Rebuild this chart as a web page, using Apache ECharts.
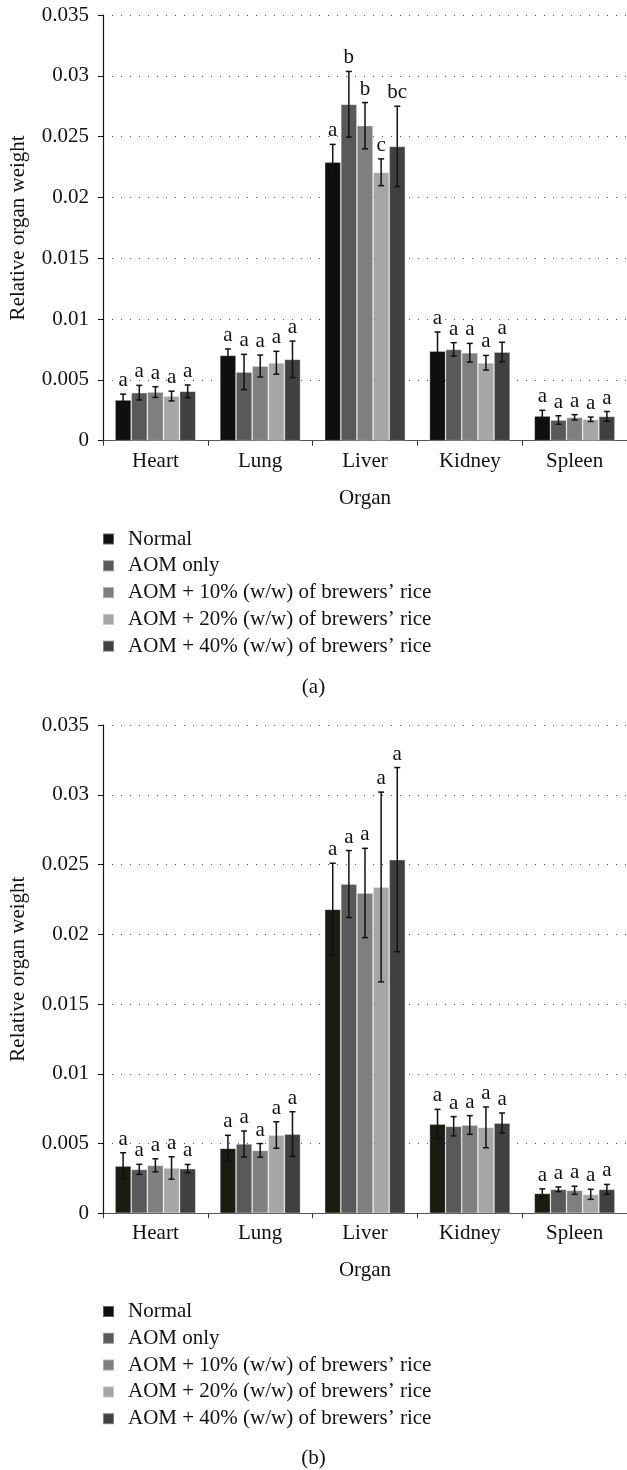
<!DOCTYPE html>
<html>
<head>
<meta charset="utf-8">
<script src="https://cdn.jsdelivr.net/npm/echarts@6/dist/echarts.min.js"></script>
<style>html,body{margin:0;padding:0;background:#fff}#c{width:627px;height:1470px}</style>
</head>
<body>
<div id="c"></div>
<script>
// ---------- data ----------
const categories = ['Heart', 'Lung', 'Liver', 'Kidney', 'Spleen'];
const groups = ['Normal', 'AOM only', 'AOM + 10% (w/w) of brewers’ rice', 'AOM + 20% (w/w) of brewers’ rice', 'AOM + 40% (w/w) of brewers’ rice'];
const yTicks = [0, 0.005, 0.01, 0.015, 0.02, 0.025, 0.03, 0.035];

// Panel (a) means
const aNormal = [0.00335, 0.00702, 0.02291, 0.00737, 0.00203];
const aAOM    = [0.00395, 0.00565, 0.02766, 0.00751, 0.00170];
const aAOM10  = [0.00400, 0.00614, 0.02590, 0.00723, 0.00192];
const aAOM20  = [0.00367, 0.00641, 0.02207, 0.00641, 0.00176];
const aAOM40  = [0.00406, 0.00669, 0.02420, 0.00729, 0.00200];
// Panel (a) error (±)
const aErrNormal = [0.00048, 0.00052, 0.00145, 0.00157, 0.00047];
const aErrAOM    = [0.00060, 0.00145, 0.00270, 0.00055, 0.00035];
const aErrAOM10  = [0.00044, 0.00090, 0.00190, 0.00077, 0.00022];
const aErrAOM20  = [0.00040, 0.00094, 0.00110, 0.00060, 0.00018];
const aErrAOM40  = [0.00052, 0.00150, 0.00330, 0.00080, 0.00040];
// Panel (a) letters
const aLetNormal = ['a', 'a', 'a', 'a', 'a'];
const aLetAOM    = ['a', 'a', 'b', 'a', 'a'];
const aLetAOM10  = ['a', 'a', 'b', 'a', 'a'];
const aLetAOM20  = ['a', 'a', 'c', 'a', 'a'];
const aLetAOM40  = ['a', 'a', 'bc', 'a', 'a'];

// Panel (b) means
const bNormal = [0.00339, 0.00466, 0.02179, 0.00640, 0.00143];
const bAOM    = [0.00315, 0.00497, 0.02360, 0.00624, 0.00172];
const bAOM10  = [0.00344, 0.00451, 0.02296, 0.00633, 0.00165];
const bAOM20  = [0.00325, 0.00561, 0.02339, 0.00616, 0.00136];
const bAOM40  = [0.00320, 0.00568, 0.02535, 0.00647, 0.00172];
// Panel (b) error (±)
const bErrNormal = [0.00095, 0.00093, 0.00330, 0.00105, 0.00032];
const bErrAOM    = [0.00036, 0.00093, 0.00240, 0.00069, 0.00017];
const bErrAOM10  = [0.00047, 0.00049, 0.00320, 0.00067, 0.00029];
const bErrAOM20  = [0.00080, 0.00095, 0.00680, 0.00146, 0.00036];
const bErrAOM40  = [0.00030, 0.00160, 0.00660, 0.00072, 0.00035];
// Panel (b) letters
const bLetNormal = ['a', 'a', 'a', 'a', 'a'];
const bLetAOM    = ['a', 'a', 'a', 'a', 'a'];
const bLetAOM10  = ['a', 'a', 'a', 'a', 'a'];
const bLetAOM20  = ['a', 'a', 'a', 'a', 'a'];
const bLetAOM40  = ['a', 'a', 'a', 'a', 'a'];

// ---------- styles ----------
const colorsA = ['#0f0f0f', '#595959', '#7f7f7f', '#a6a6a6', '#404040'];
const colorsB = ['#1b1b12', '#595959', '#7f7f7f', '#a6a6a6', '#404040'];
const FONT = '"Liberation Serif", "DejaVu Serif", serif';
const FS = 21;
const CAT_GAP = 0.23;

const panelA = { means: [aNormal, aAOM, aAOM10, aAOM20, aAOM40], errs: [aErrNormal, aErrAOM, aErrAOM10, aErrAOM20, aErrAOM40], lets: [aLetNormal, aLetAOM, aLetAOM10, aLetAOM20, aLetAOM40], colors: colorsA };
const panelB = { means: [bNormal, bAOM, bAOM10, bAOM20, bAOM40], errs: [bErrNormal, bErrAOM, bErrAOM10, bErrAOM20, bErrAOM40], lets: [bLetNormal, bLetAOM, bLetAOM10, bLetAOM20, bLetAOM40], colors: colorsB };

function xAxisCfg(gi) {
  return {
    type: 'category', gridIndex: gi, data: categories,
    name: 'Organ', nameLocation: 'middle', nameGap: 47,
    nameTextStyle: { fontFamily: FONT, fontSize: FS, color: '#111' },
    axisLine: { lineStyle: { color: '#555', width: 1.2 } },
    axisTick: { show: true, length: 5, lineStyle: { color: '#333' } },
    axisLabel: { fontFamily: FONT, fontSize: FS, color: '#111', margin: 10 },
    splitLine: { show: false }
  };
}
function yAxisCfg(gi) {
  return {
    type: 'value', gridIndex: gi, min: 0, max: 0.035, interval: 0.005,
    name: 'Relative organ weight', nameLocation: 'middle', nameGap: 74,
    nameTextStyle: { fontFamily: FONT, fontSize: FS, color: '#111' },
    axisLine: { show: true, lineStyle: { color: '#111', width: 1.2 } },
    axisTick: { show: true, length: 5, lineStyle: { color: '#111' } },
    axisLabel: {
      fontFamily: FONT, fontSize: FS, color: '#111', margin: 14,
      formatter: function (v) {
        for (const t of yTicks) { if (Math.abs(t - v) < 1e-9) return String(t); }
        return '';
      }
    },
    splitLine: { show: true, lineStyle: { color: '#555', width: 1, type: [1, 8] } }
  };
}

const series = [];
function addPanel(p, gi) {
  groups.forEach((g, i) => {
    series.push({
      type: 'bar', name: g, xAxisIndex: gi, yAxisIndex: gi,
      data: p.means[i], barGap: '0%', barCategoryGap: (CAT_GAP * 100) + '%',
      itemStyle: { color: p.colors[i], borderColor: 'rgba(255,255,255,0.35)', borderWidth: 0.8 },
      emphasis: { disabled: true }, z: 2
    });
  });
  const data = [];
  const letters = [];
  groups.forEach((g, i) => {
    categories.forEach((c, k) => {
      data.push([k, i, p.means[i][k], p.errs[i][k]]);
      letters.push(p.lets[i][k]);
    });
  });
  series.push({
    type: 'custom', xAxisIndex: gi, yAxisIndex: gi, z: 5, silent: true,
    data: data,
    renderItem: function (params, api) {
      const cat = api.value(0), gidx = api.value(1), m = api.value(2), e = api.value(3);
      const c = api.coord([cat, m]);
      const band = api.size([1, 0])[0];
      const bw = band * (1 - CAT_GAP) / groups.length;
      const x = c[0] + (gidx - (groups.length - 1) / 2) * bw;
      const top = api.coord([cat, m + e])[1];
      const bot = api.coord([cat, m - e])[1];
      const cap = 3;
      const ls = { stroke: '#111', lineWidth: 1.5 };
      return {
        type: 'group',
        children: [
          { type: 'line', shape: { x1: x, y1: top, x2: x, y2: bot }, style: ls },
          { type: 'line', shape: { x1: x - cap, y1: top, x2: x + cap, y2: top }, style: ls },
          { type: 'line', shape: { x1: x - cap, y1: bot, x2: x + cap, y2: bot }, style: ls },
          { type: 'text', style: { text: letters[params.dataIndex], x: x, y: top - 3, textAlign: 'center', textVerticalAlign: 'bottom', font: FS + 'px ' + FONT, fill: '#111' } }
        ]
      };
    }
  });
}
addPanel(panelA, 0);
addPanel(panelB, 1);

function legendCfg(top) {
  return {
    orient: 'vertical', left: 102, top: top, data: groups, padding: 0,
    icon: 'rect', itemWidth: 11, itemHeight: 11, itemGap: 5.8,
    selectedMode: false,
    textStyle: { fontFamily: FONT, fontSize: FS, color: '#111', lineHeight: 20, padding: [0, 0, 0, 9] }
  };
}

const option = {
  animation: false,
  backgroundColor: '#fff',
  title: [
    { text: '(a)', left: 'center', top: 677, textStyle: { fontFamily: FONT, fontSize: FS, fontWeight: 'normal', color: '#111' }, padding: 0 },
    { text: '(b)', left: 'center', top: 1448, textStyle: { fontFamily: FONT, fontSize: FS, fontWeight: 'normal', color: '#111' }, padding: 0 }
  ],
  legend: [legendCfg(528.5), legendCfg(1301)],
  grid: [
    { left: 102, width: 525, top: 15, height: 425.7 },
    { left: 102, width: 525, top: 725, height: 488.3 }
  ],
  xAxis: [xAxisCfg(0), xAxisCfg(1)],
  yAxis: [yAxisCfg(0), yAxisCfg(1)],
  series: series
};

const chart = echarts.init(document.getElementById('c'), null, { renderer: 'canvas' });
chart.setOption(option);
</script>
</body>
</html>
